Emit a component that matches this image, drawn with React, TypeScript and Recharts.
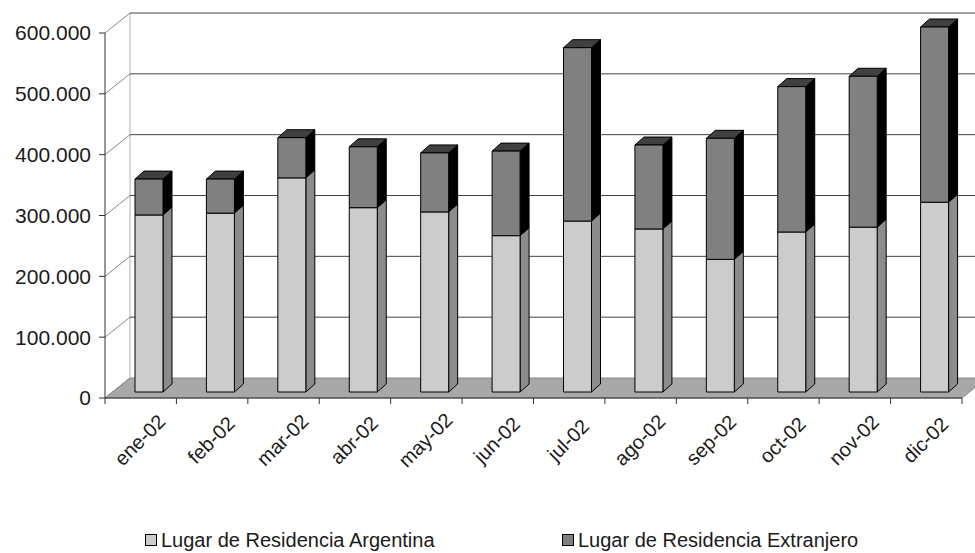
import { BarChart, Bar, XAxis, YAxis, CartesianGrid, Legend } from 'recharts';

const MONTHS = [
  'ene-02', 'feb-02', 'mar-02', 'abr-02', 'may-02', 'jun-02',
  'jul-02', 'ago-02', 'sep-02', 'oct-02', 'nov-02', 'dic-02',
];
const ARGENTINA = [291000, 294000, 352000, 303000, 296000, 257000, 281000, 268000, 218000, 263000, 271000, 312000];
const EXTRANJERO = [59000, 56000, 66000, 100000, 97000, 139000, 285000, 138000, 199000, 239000, 248000, 288000];
const Y_TICKS = [0, 100000, 200000, 300000, 400000, 500000, 600000];
const SERIES_NAMES = ['Lugar de Residencia Argentina', 'Lugar de Residencia Extranjero'];

const data = MONTHS.map((month, i) => ({
  month,
  argentina: ARGENTINA[i],
  extranjero: EXTRANJERO[i],
}));

const W = 975;
const H = 553;
const PLOT_LEFT = 105;
const PLOT_RIGHT = 962;
const PLOT_TOP = 33;
const PLOT_BOTTOM = 398;
// depth of the 3d walls and of the columns
const WALL_DX = 25;
const WALL_DY = 20;
const BAR_SHIFT_X = 8;
const BAR_SHIFT_Y = 6;
const BAR_DX = 9;
const BAR_DY = 8;

const FONT = '"Liberation Sans", Arial, sans-serif';
const TEXT = '#1a1a1a';

const formatTick = (v: number) => (v === 0 ? '0' : v.toLocaleString('de-DE'));

const renderGridLine = (props: any) => {
  const { x1, y1, x2, key } = props;
  const bx = x1 + WALL_DX;
  const by = y1 - WALL_DY;
  const isFloor = Math.abs(y1 - PLOT_BOTTOM) < 0.5;
  return (
    <g key={key}>
      {isFloor && (
        <polygon
          points={`${x1},${y1} ${x2},${y1} ${x2 + WALL_DX},${by} ${bx},${by}`}
          fill="#a8a8a8"
          stroke="#777"
          strokeWidth={0.8}
        />
      )}
      {isFloor && (
        <line x1={bx} y1={by} x2={bx} y2={PLOT_TOP - WALL_DY} stroke="#b0b0b0" strokeWidth={1} />
      )}
      <line x1={x1} y1={y1} x2={bx} y2={by} stroke="#888" strokeWidth={1} />
      {!isFloor && <line x1={bx} y1={by} x2={x2 + WALL_DX} y2={by} stroke="#444" strokeWidth={1} />}
    </g>
  );
};

function Column3D(props: any, front: string, side: string, top: string | null) {
  const { x, y, width, height } = props;
  if (width == null || height == null) return <g />;
  const x0 = x + BAR_SHIFT_X;
  const y0 = y - BAR_SHIFT_Y;
  const x1 = x0 + width;
  const y1 = y0 + height;
  return (
    <g stroke="#000" strokeWidth={1} strokeLinejoin="round">
      <polygon
        points={`${x1},${y0} ${x1 + BAR_DX},${y0 - BAR_DY} ${x1 + BAR_DX},${y1 - BAR_DY} ${x1},${y1}`}
        fill={side}
      />
      {top && (
        <polygon
          points={`${x0},${y0} ${x0 + BAR_DX},${y0 - BAR_DY} ${x1 + BAR_DX},${y0 - BAR_DY} ${x1},${y0}`}
          fill={top}
        />
      )}
      <rect x={x0} y={y0} width={width} height={height} fill={front} />
    </g>
  );
}

const XTick = (props: any) => {
  const { x, index, payload } = props;
  const half = (PLOT_RIGHT - PLOT_LEFT) / MONTHS.length / 2;
  return (
    <g>
      <line x1={x - half} y1={PLOT_BOTTOM} x2={x - half} y2={PLOT_BOTTOM + 6} stroke="#333" />
      {index === MONTHS.length - 1 && (
        <line x1={x + half} y1={PLOT_BOTTOM} x2={x + half} y2={PLOT_BOTTOM + 6} stroke="#333" />
      )}
      <text
        transform={`translate(${x - 1},${PLOT_BOTTOM + 42}) rotate(-45)`}
        textAnchor="middle"
        dominantBaseline="central"
        fontSize={20}
        fontFamily={FONT}
        fill={TEXT}
      >
        {payload.value}
      </text>
    </g>
  );
};

const LEGEND_X = [145, 562];
const LEGEND_FILL = ['#cccccc', '#808080'];

const LegendContent = () => (
  <div style={{ position: 'relative', width: W, height: 24, fontFamily: FONT, fontSize: 20, color: TEXT }}>
    {SERIES_NAMES.map((name, i) => (
      <div key={name} style={{ position: 'absolute', left: LEGEND_X[i], top: 0, height: 24, display: 'flex', alignItems: 'center' }}>
        <span
          style={{
            display: 'inline-block',
            width: 10,
            height: 10,
            background: LEGEND_FILL[i],
            border: '1px solid #000',
            marginRight: 4,
          }}
        />
        <span style={{ lineHeight: '24px' }}>{name}</span>
      </div>
    ))}
  </div>
);

export default function App() {
  return (
    <div style={{ position: 'absolute', left: 0, top: 0, width: W, height: H, background: '#fff', fontFamily: FONT }}>
      <BarChart
        width={W}
        height={H}
        data={data}
        margin={{ top: PLOT_TOP, right: W - PLOT_RIGHT, bottom: 0, left: 0 }}
        barSize={28}
      >
        <CartesianGrid vertical={false} horizontal={renderGridLine} />
        <XAxis
          dataKey="month"
          height={H - PLOT_BOTTOM}
          interval={0}
          tickLine={false}
          axisLine={{ stroke: '#333' }}
          tick={<XTick />}
        />
        <YAxis
          width={PLOT_LEFT}
          domain={[0, 600000]}
          ticks={Y_TICKS}
          tickFormatter={formatTick}
          tick={{ fill: TEXT, fontSize: 21, fontFamily: FONT }}
          axisLine={{ stroke: '#333' }}
          tickLine={{ stroke: '#333' }}
          tickSize={6}
          tickMargin={8}
        />
        <Legend verticalAlign="middle" wrapperStyle={{ top: 528, left: 0, width: W }} content={<LegendContent />} />
        <Bar
          dataKey="argentina"
          name={SERIES_NAMES[0]}
          stackId="a"
          fill="#cccccc"
          isAnimationActive={false}
          shape={(p: any) => Column3D(p, '#cccccc', '#8c8c8c', null)}
        />
        <Bar
          dataKey="extranjero"
          name={SERIES_NAMES[1]}
          stackId="a"
          fill="#808080"
          isAnimationActive={false}
          shape={(p: any) => Column3D(p, '#808080', '#000000', '#404040')}
        />
      </BarChart>
    </div>
  );
}
